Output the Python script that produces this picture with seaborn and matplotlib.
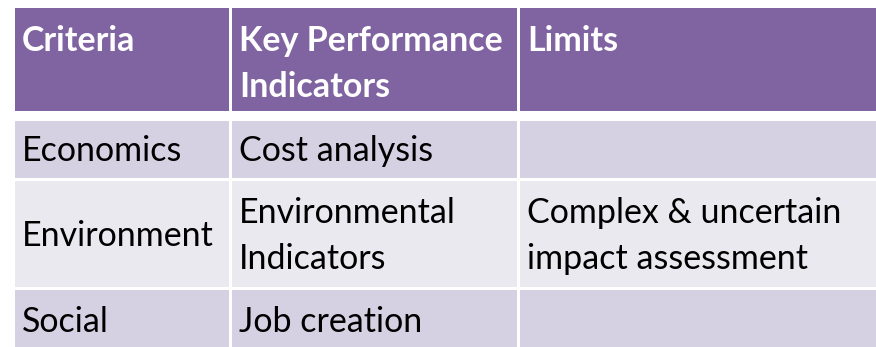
import matplotlib
matplotlib.use("Agg")
import matplotlib.pyplot as plt
from matplotlib.patches import Rectangle
import seaborn as sns

# TABLE CONTENT
headers = [["Criteria"], ["Key Performance", "Indicators"], ["Limits"]]
criteria = [["Economics"], ["Environment"], ["Social"]]
kpis = [["Cost analysis"], ["Environmental", "Indicators"], ["Job creation"]]
limits = [[], ["Complex & uncertain", "impact assessment"], []]

# LAYOUT (pixels)
col_edges = [13, 230.5, 518.5, 880]
header_span = (8, 111)
row_spans = [(119, 179.5), (179.5, 288.5), (288.5, 352)]
gap = 3
pad_x = 8.5
line_gap = 46

header_color = "#8064A2"
band_colors = ["#D5D1E2", "#EBE9F0"]

sns.set_theme(style="white")
plt.rcParams["font.family"] = ["Lato", "DejaVu Sans"]

fig = plt.figure(figsize=(8.76, 3.47), dpi=100)
ax = fig.add_axes([0, 0, 1, 1])
ax.set_xlim(0, 876)
ax.set_ylim(347, 0)
ax.axis("off")

fs = 24.5

# header
for j, lines in enumerate(headers):
    x0, x1 = col_edges[j], col_edges[j + 1]
    y0, y1 = header_span
    ax.add_patch(Rectangle((x0 + gap / 2, y0), x1 - x0 - gap, y1 - y0,
                           facecolor=header_color, edgecolor="none"))
    for k, line in enumerate(lines):
        ax.text(x0 + pad_x, 51 + k * line_gap, line, color="white",
                fontsize=fs, fontweight="bold", va="baseline", ha="left")

# body
columns = [criteria, kpis, limits]
for i, (y0, y1) in enumerate(row_spans):
    for j in range(3):
        x0, x1 = col_edges[j], col_edges[j + 1]
        ax.add_patch(Rectangle((x0 + gap / 2, y0 + gap / 2), x1 - x0 - gap,
                               y1 - y0 - gap, facecolor=band_colors[i % 2],
                               edgecolor="none"))
        lines = columns[j][i]
        n = len(lines)
        mid = (y0 + y1) / 2
        for k, line in enumerate(lines):
            base = mid + 12 + (k - (n - 1) / 2) * line_gap
            ax.text(x0 + pad_x, base, line, color="black", fontsize=fs,
                    va="baseline", ha="left")

fig.savefig("out.png", dpi=100)
